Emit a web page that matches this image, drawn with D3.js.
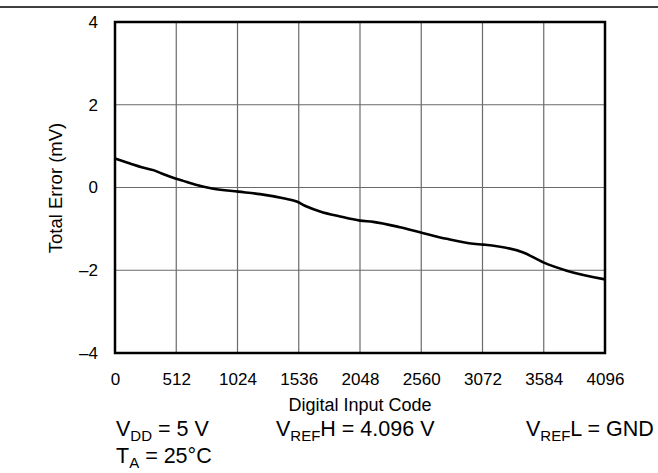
<!DOCTYPE html>
<html><head><meta charset="utf-8">
<script src="https://cdn.jsdelivr.net/npm/d3@7"></script>
<style>body{margin:0;background:#fff}svg{display:block;font-family:"Liberation Sans",Arial,sans-serif}</style>
</head><body><svg id="c" width="658" height="473"></svg>
<script>
const codes = [0,125,223,320,390,474,571,683,822,1031,1212,1407,1519,1602,1714,1881,2048,2159,2382,2549,2773,2995,3079,3413,3580,3776,4096];
const errors = [0.70,0.58,0.49,0.42,0.34,0.25,0.16,0.06,-0.03,-0.10,-0.16,-0.26,-0.34,-0.46,-0.58,-0.70,-0.80,-0.83,-0.96,-1.08,-1.24,-1.36,-1.38,-1.57,-1.81,-2.01,-2.22];
const xTicks = [0,512,1024,1536,2048,2560,3072,3584,4096];
const yTicks = [-4,-2,0,2,4];

const svg = d3.select("#c");
const L=115,R=605,T=22,B=353;
const x = d3.scaleLinear().domain([0,4096]).range([L,R]);
const y = d3.scaleLinear().domain([-4,4]).range([B,T]);

svg.append("line").attr("x1",0).attr("x2",658).attr("y1",7).attr("y2",7).attr("stroke","#000").attr("stroke-width",1.5);

const g = svg.append("g");
g.selectAll(".vg").data(xTicks.slice(1,-1)).join("line")
 .attr("x1",d=>x(d)).attr("x2",d=>x(d)).attr("y1",T).attr("y2",B)
 .attr("stroke","#6a6a6a").attr("stroke-width",1.2);
g.selectAll(".hg").data(yTicks.slice(1,-1)).join("line")
 .attr("x1",L).attr("x2",R).attr("y1",d=>y(d)).attr("y2",d=>y(d))
 .attr("stroke","#6a6a6a").attr("stroke-width",1.2);

const fmt = d => d<0 ? "\u2013"+Math.abs(d) : String(d);
const xa = svg.append("g").attr("transform",`translate(0,${B})`)
 .call(d3.axisBottom(x).tickValues(xTicks).tickSize(0).tickPadding(20).tickFormat(d=>d));
const ya = svg.append("g").attr("transform",`translate(${L},0)`)
 .call(d3.axisLeft(y).tickValues(yTicks).tickSize(0).tickPadding(17).tickFormat(fmt));
[xa,ya].forEach(a=>{a.select(".domain").remove();a.attr("font-size",null).attr("font-family",null);a.selectAll("text").attr("font-size",17).attr("fill","#000");});

const pts = codes.map((c,i)=>[c,errors[i]]);
svg.append("path").datum(pts)
 .attr("d",d3.line().x(d=>x(d[0])).y(d=>y(d[1])).curve(d3.curveMonotoneX))
 .attr("fill","none").attr("stroke","#000").attr("stroke-width",2.6);

svg.append("rect").attr("x",L).attr("y",T).attr("width",R-L).attr("height",B-T)
 .attr("fill","none").attr("stroke","#000").attr("stroke-width",2.5);

svg.append("text").attr("x",360).attr("y",411).attr("text-anchor","middle").attr("font-size",18).text("Digital Input Code");
svg.append("text").attr("transform","translate(62,188) rotate(-90)").attr("text-anchor","middle").attr("font-size",18.5).text("Total Error (mV)");

function sub(xp,yp,parts){
  const t=svg.append("text").attr("x",xp).attr("y",yp).attr("font-size",21.5);
  parts.forEach(p=>{
    if(p[1]) t.append("tspan").attr("dy",4.5).attr("font-size",15).text(p[0]);
    else t.append("tspan").attr("dy",p[2]||0).text(p[0]);
  });
}
sub(116,436,[["V"],["DD",1],[" = 5 V",0,-4.5]]);
sub(276,436,[["V"],["REF",1],["H = 4.096 V",0,-4.5]]);
sub(526,436,[["V"],["REF",1],["L = GND",0,-4.5]]);
sub(116,463,[["T"],["A",1],[" = 25°C",0,-4.5]]);
</script></body></html>
